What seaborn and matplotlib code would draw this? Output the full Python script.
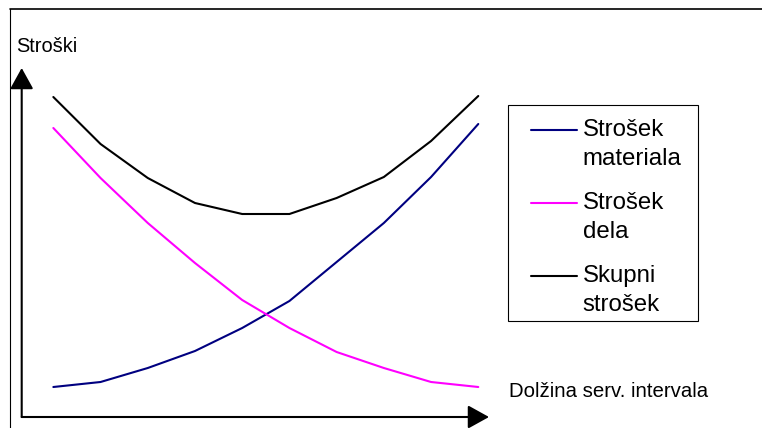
import matplotlib
matplotlib.use("Agg")
import matplotlib.pyplot as plt
from matplotlib.lines import Line2D
from matplotlib.patches import Rectangle
import numpy as np
import pandas as pd
import seaborn as sns

# Service interval length (steps) and the cost curves
interval = [1, 2, 3, 4, 5, 6, 7, 8, 9, 10]
material_cost = [3.0, 3.5, 4.9, 6.6, 8.9, 11.6, 15.5, 19.4, 24.0, 29.3]
labour_cost = [28.9, 23.9, 19.4, 15.4, 11.7, 8.9, 6.5, 4.9, 3.5, 3.0]
total_cost = [32.0, 27.3, 23.9, 21.4, 20.3, 20.3, 21.9, 24.0, 27.6, 32.1]

series_names = ["Strošek\nmateriala", "Strošek\ndela", "Skupni\nstrošek"]
series_colors = ["#000080", "#FF00FF", "#000000"]
y_label = "Stroški"
x_label = "Dolžina serv. intervala"

df = pd.concat(
    [
        pd.DataFrame({"interval": interval, "cost": vals, "series": name})
        for name, vals in zip(series_names, [material_cost, labour_cost, total_cost])
    ],
    ignore_index=True,
)

sns.set_theme(style="white")
plt.rcParams["font.family"] = ["Liberation Sans", "DejaVu Sans"]
plt.rcParams["text.color"] = "black"
plt.rcParams["legend.labelcolor"] = "black"

W, H = 762, 428
fig = plt.figure(figsize=(W / 100, H / 100), dpi=100)
fig.patch.set_facecolor("white")


def fpos(x, y):
    """Pixel position (from top-left) to figure fraction."""
    return x / W, 1 - y / H


ax_left, ax_right, ax_top, ax_bottom = 21.7, 489.0, 68.0, 417.0
ax = fig.add_axes([ax_left / W, 1 - ax_bottom / H,
                   (ax_right - ax_left) / W, (ax_bottom - ax_top) / H])
ax.set_facecolor("none")

sns.lineplot(data=df, x="interval", y="cost", hue="series",
             palette=series_colors, linewidth=1.5, ax=ax, legend=True)

ax.set_xlim(0.33, 10.227)
ax.set_ylim(0, 34.9)
ax.set_xticks([])
ax.set_yticks([])
ax.set_xlabel("")
ax.set_ylabel("")
for s in ax.spines.values():
    s.set_visible(False)

# Axes drawn as arrows
arrow = dict(arrowstyle="-|>,head_length=13,head_width=7.2", mutation_scale=1,
             color="black", lw=1.5, shrinkA=0, shrinkB=0)
ax.annotate("", xy=(1, 0), xytext=(0, 0), xycoords="axes fraction",
            textcoords="axes fraction", arrowprops=arrow)
ax.annotate("", xy=(0, 1), xytext=(0, 0), xycoords="axes fraction",
            textcoords="axes fraction", arrowprops=arrow)

# Axis captions
fig.text(*fpos(16, 51.7), y_label, fontsize=14.4, color="black",
         ha="left", va="baseline")
fig.text(*fpos(509, 396.7), x_label, fontsize=14.7, color="black",
         ha="left", va="baseline")

# Legend
handles, labels = ax.get_legend_handles_labels()
leg = ax.legend(handles, labels, loc="upper left",
                bbox_to_anchor=fpos(530.7, 119), bbox_transform=fig.transFigure,
                frameon=False, borderpad=0, borderaxespad=0,
                handlelength=1.92, handletextpad=0.25, labelspacing=0.92,
                prop={"size": 17.3})
for t in leg.get_texts():
    t.set_linespacing(1.4)
    t.set_color("black")
# keep each legend line level with the first line of its two-line label
for h in leg.legend_handles:
    h.set_linewidth(1.5)
    h.set_ydata(np.asarray(h.get_ydata(), dtype=float) + 10.5)
fig.add_artist(Rectangle(fpos(508.3, 320.7), (698.3 - 508.3) / W, (320.7 - 105) / H,
                         transform=fig.transFigure, fill=False, ec="black", lw=0.8))

# Chart area border (top and left)
fig.add_artist(Line2D([10 / W, 1], [1 - 9 / H, 1 - 9 / H],
                      transform=fig.transFigure, color="black", lw=1.2))
fig.add_artist(Line2D([10 / W, 10 / W], [0, 1 - 9 / H],
                      transform=fig.transFigure, color="black", lw=0.8))

fig.savefig("out.png", dpi=100)
